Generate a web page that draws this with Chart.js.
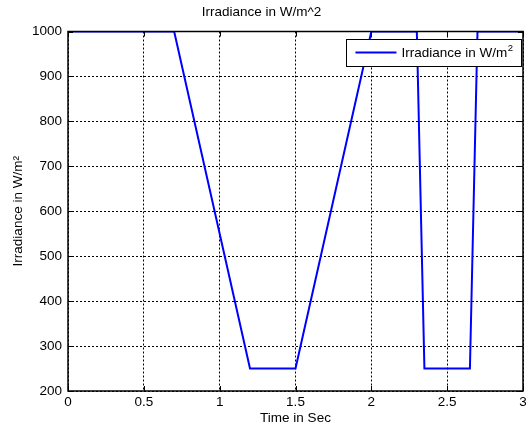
<!DOCTYPE html>
<html>
<head>
<meta charset="utf-8">
<script src="https://cdn.jsdelivr.net/npm/chart.js@4/dist/chart.umd.min.js"></script>
<style>
  html, body { margin: 0; padding: 0; background: #fff; }
  #wrap { width: 526px; height: 428px; }
</style>
</head>
<body>
<div id="wrap"><canvas id="c" width="526" height="428"></canvas></div>
<script>
// ---- data ----
const timeSec    = [0, 0.7, 1.2, 1.5, 2.0, 2.3, 2.35, 2.65, 2.7, 3.0];
const irradiance = [1000, 1000, 250, 250, 1000, 1000, 250, 250, 1000, 1000];
const xTicks = [0, 0.5, 1, 1.5, 2, 2.5, 3];
const yTicks = [200, 300, 400, 500, 600, 700, 800, 900, 1000];
const chartTitle = 'Irradiance in W/m^2';
const xTitle = 'Time in Sec';
const yTitle = 'Irradiance in W/m\u00B2';
const legendMain = 'Irradiance in W/m';
const legendSup = '2';

const FONT = "'Liberation Sans', Arial, Helvetica, sans-serif";
const FS = 13.5;
Chart.defaults.font.family = FONT;
Chart.defaults.font.size = FS;
Chart.defaults.color = '#000';

const points = timeSec.map((t, i) => ({ x: t, y: irradiance[i] }));

const matlabBox = {
  id: 'matlabBox',
  afterDatasetsDraw(chart) {
    const { ctx, chartArea: a, scales } = chart;
    ctx.save();
    ctx.strokeStyle = '#000';
    ctx.lineWidth = 1;
    ctx.setLineDash([]);
    const tl = 5;
    xTicks.forEach(v => {
      const px = Math.round(scales.x.getPixelForValue(v)) + 0.5;
      ctx.beginPath();
      ctx.moveTo(px, a.bottom); ctx.lineTo(px, a.bottom - tl);
      ctx.moveTo(px, a.top); ctx.lineTo(px, a.top + tl);
      ctx.stroke();
    });
    yTicks.forEach(v => {
      const py = Math.round(scales.y.getPixelForValue(v)) + 0.5;
      ctx.beginPath();
      ctx.moveTo(a.left, py); ctx.lineTo(a.left + tl, py);
      ctx.moveTo(a.right, py); ctx.lineTo(a.right - tl, py);
      ctx.stroke();
    });
    ctx.lineWidth = 1.5;
    ctx.strokeRect(a.left, a.top, a.right - a.left, a.bottom - a.top);
    ctx.restore();
  },
  afterDraw(chart) {
    const { ctx, chartArea: a } = chart;
    ctx.save();
    ctx.font = FS + 'px ' + FONT;
    const wMain = ctx.measureText(legendMain).width;
    ctx.font = '9.5px ' + FONT;
    const wSup = ctx.measureText(legendSup).width;
    const lineLen = 41, gap = 5, padL = 9, padR = 9;
    const w = padL + lineLen + gap + wMain + wSup + padR;
    const h = 27;
    const right = a.right - 1.5;
    const left = right - w;
    const top = a.top + 7.5;
    ctx.fillStyle = '#fff';
    ctx.fillRect(left, top, w, h);
    ctx.strokeStyle = '#000';
    ctx.lineWidth = 1;
    ctx.strokeRect(Math.round(left) + 0.5, Math.round(top) + 0.5, Math.round(w), h);
    const cy = top + h / 2;
    ctx.strokeStyle = '#0000ff';
    ctx.lineWidth = 2;
    ctx.beginPath();
    ctx.moveTo(left + padL, cy);
    ctx.lineTo(left + padL + lineLen, cy);
    ctx.stroke();
    ctx.fillStyle = '#000';
    ctx.textBaseline = 'middle';
    ctx.font = FS + 'px ' + FONT;
    const tx = left + padL + lineLen + gap;
    ctx.fillText(legendMain, tx, cy + 1);
    ctx.font = '9.5px ' + FONT;
    ctx.fillText(legendSup, tx + wMain + 0.5, cy - 4);
    ctx.restore();
  }
};

new Chart(document.getElementById('c'), {
  type: 'line',
  data: {
    datasets: [{
      label: 'Irradiance in W/m2',
      data: points,
      borderColor: '#0000ff',
      backgroundColor: '#0000ff',
      borderWidth: 2,
      pointRadius: 0,
      tension: 0,
      fill: false
    }]
  },
  options: {
    responsive: false,
    animation: false,
    events: [],
    layout: { padding: { left: 0, right: 3, top: 0, bottom: 0 } },
    plugins: {
      legend: { display: false },
      tooltip: { enabled: false },
      title: {
        display: true,
        text: chartTitle,
        color: '#000',
        font: { size: FS, weight: 'normal' },
        padding: { top: 4, bottom: 11.3 }
      }
    },
    scales: {
      x: {
        type: 'linear',
        min: 0, max: 3,
        afterBuildTicks(scale) { scale.ticks = xTicks.map(v => ({ value: v })); },
        afterFit(scale) { scale.height = 37; scale.paddingRight = 0; scale.paddingLeft = 0; },
        ticks: {
          padding: 3,
          maxRotation: 0,
          autoSkip: false,
          color: '#000',
          callback: v => String(v)
        },
        grid: {
          color: '#000',
          lineWidth: 1,
          drawTicks: false,
          tickLength: 0
        },
        border: { display: false, dash: [2, 2] },
        title: {
          display: true,
          text: xTitle,
          color: '#000',
          font: { size: FS },
          padding: { top: 0, bottom: 2 }
        }
      },
      y: {
        type: 'linear',
        min: 200, max: 1000,
        afterBuildTicks(scale) { scale.ticks = yTicks.map(v => ({ value: v })); },
        afterFit(scale) { scale.width = 68; },
        ticks: {
          padding: 6,
          autoSkip: false,
          color: '#000',
          callback: v => String(v)
        },
        grid: {
          color: '#000',
          lineWidth: 1,
          drawTicks: false,
          tickLength: 0
        },
        border: { display: false, dash: [2, 2] },
        title: {
          display: true,
          text: yTitle,
          color: '#000',
          font: { size: FS },
          padding: { top: 10, bottom: 0 }
        }
      }
    }
  },
  plugins: [matlabBox]
});
</script>
</body>
</html>
